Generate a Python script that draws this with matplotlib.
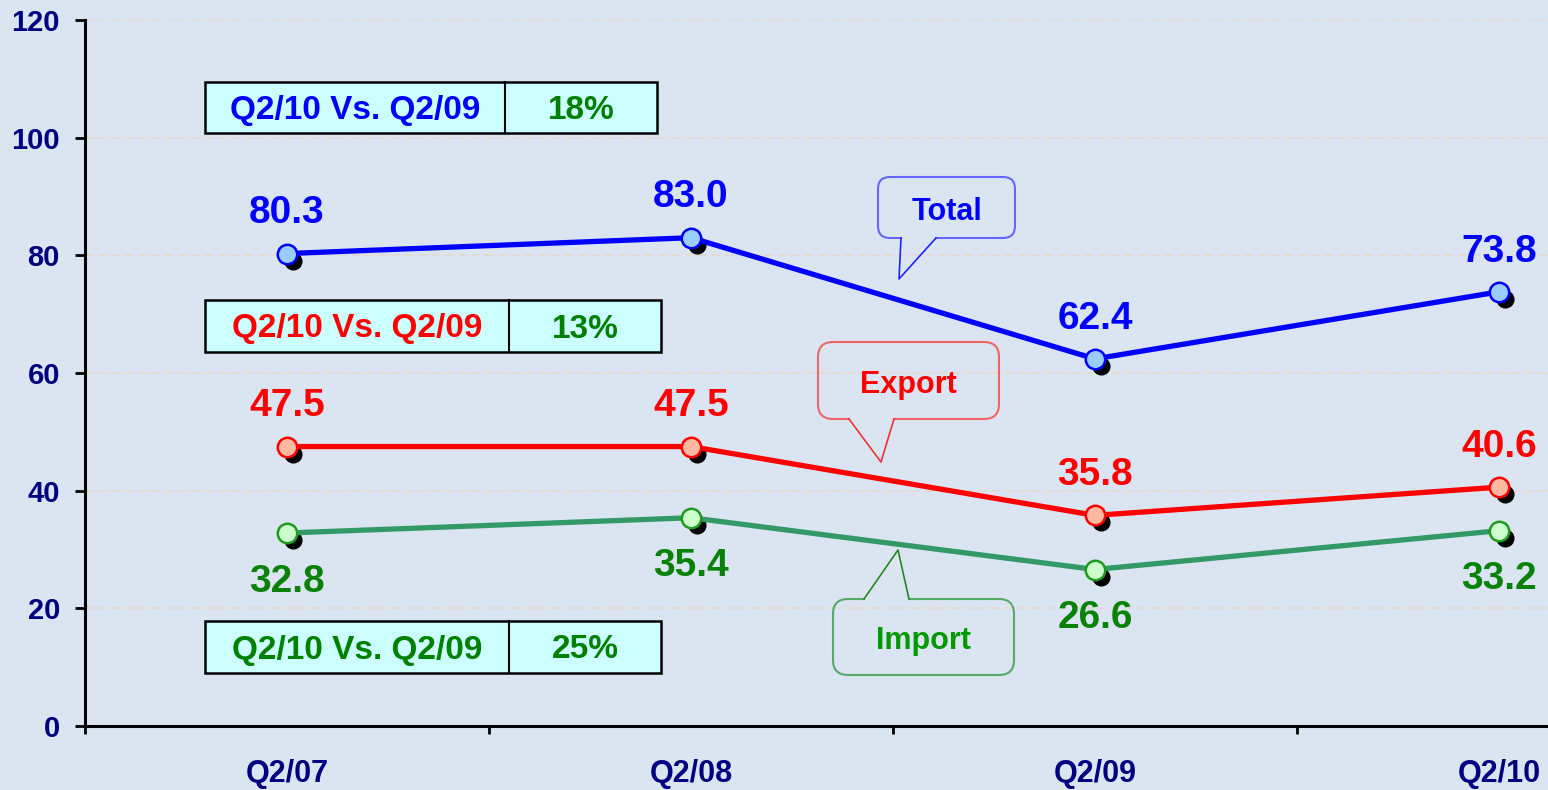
import matplotlib
matplotlib.use('Agg')
import matplotlib.pyplot as plt
from matplotlib.patches import Rectangle, FancyBboxPatch
from matplotlib.lines import Line2D
import matplotlib.transforms as mtransforms

categories = ['Q2/07', 'Q2/08', 'Q2/09', 'Q2/10']
total = [80.3, 83.0, 62.4, 73.8]
export = [47.5, 47.5, 35.8, 40.6]
imports = [32.8, 35.4, 26.6, 33.2]
yticks = [0, 20, 40, 60, 80, 100, 120]
series_names = ['Total', 'Export', 'Import']
box_label = 'Q2/10 Vs. Q2/09'
growth = ['18%', '13%', '25%']

W, H = 1548, 790
BG = '#DBE5F1'
plt.rcParams['font.family'] = ['Liberation Sans', 'DejaVu Sans']
plt.rcParams['font.weight'] = 'bold'

fig = plt.figure(figsize=(W / 100, H / 100), dpi=100, facecolor=BG)
left = 85 / W
bottom = (H - 726) / H
top = 20 / H
ax = fig.add_axes([left, bottom, 1 - left, 1 - bottom - top])
ax.set_facecolor(BG)
ax.set_xlim(-0.5, -0.5 + (W - 85) / 404)
ax.set_ylim(0, 120)

for s in ['top', 'right']:
    ax.spines[s].set_visible(False)
for s in ['left', 'bottom']:
    ax.spines[s].set_linewidth(2.2)
    ax.spines[s].set_color('black')

ax.set_yticks(yticks)
ax.tick_params(axis='y', direction='out', length=7, width=2, pad=11,
               labelsize=21, labelcolor='#000080')
ax.set_xticks([-0.5, 0.5, 1.5, 2.5])
ax.set_xticklabels([])
ax.set_xticks(range(len(categories)), minor=True)
ax.set_xticklabels(categories, minor=True)
ax.tick_params(axis='x', which='major', direction='out', length=6, width=2)
ax.tick_params(axis='x', which='minor', length=0, pad=24, labelsize=22,
               labelcolor='#000080')
for lab in ax.get_xticklabels(minor=True) + ax.get_yticklabels():
    lab.set_fontweight('bold')

ax.yaxis.grid(True, linestyle=(0, (5, 3)), color='#E3D9CF', linewidth=1.2)
ax.set_axisbelow(True)

x = list(range(len(categories)))
shadow = ax.transData + mtransforms.ScaledTranslation(6 / 100, -7 / 100, fig.dpi_scale_trans)

specs = [
    (total, '#0000FF', '#99CCFF', '#0000FF', '#0000FF', 29),
    (export, '#FF0000', '#FFB9A0', '#FF0000', '#FF0000', 29),
    (imports, '#339966', '#CCFFCC', '#1E9A1E', '#0A820A', -35),
]
for vals, lc, face, edge, tc, off in specs:
    ax.plot(x, vals, 'o', color='black', ms=12, transform=shadow, zorder=2, clip_on=False)
    ax.plot(x, vals, '-', color=lc, lw=3.8, zorder=3, clip_on=False)
    ax.plot(x, vals, 'o', mfc=face, mec=edge, mew=1.8, ms=14, zorder=4, clip_on=False)
    for i, v in enumerate(vals):
        ax.annotate(f'{v:.1f}', (i, v), xytext=(0, off), textcoords='offset points',
                    ha='center', va='center', fontsize=28, fontweight='bold', color=tc)

# pixel transform (origin top-left)
pix = mtransforms.Affine2D().scale(1 / 100, -1 / 100).translate(0, H / 100) + fig.dpi_scale_trans


def table_box(x0, x1, xd, y0, y1, ltext, lcolor, rtext):
    fig.add_artist(Rectangle((x0, y0), x1 - x0, y1 - y0, transform=pix, facecolor='#CCFFFF',
                             edgecolor='black', lw=1.8, zorder=5))
    fig.add_artist(Line2D([xd, xd], [y0, y1], transform=pix, color='black', lw=1.5, zorder=6))
    fig.text((x0 + xd) / 2, (y0 + y1) / 2 + 3, ltext, transform=pix, ha='center', va='center',
             fontsize=24, fontweight='bold', color=lcolor, zorder=7)
    fig.text((xd + x1) / 2, (y0 + y1) / 2 + 3, rtext, transform=pix, ha='center', va='center',
             fontsize=24, fontweight='bold', color='#008000', zorder=7)


table_box(205, 657, 505, 82, 133, box_label, '#0000FF', growth[0])
table_box(205, 661, 509, 300, 352, box_label, '#FF0000', growth[1])
table_box(205, 661, 509, 621, 673, box_label, '#008000', growth[2])


def callout(x0, y0, x1, y1, b1, b2, tip, base_y, ec, tail_c, text, tcolor, r=12):
    fig.add_artist(FancyBboxPatch((x0, y0), x1 - x0, y1 - y0,
                                  boxstyle=f'round,pad=0,rounding_size={r}', transform=pix,
                                  facecolor='none', edgecolor=ec, lw=1.5, zorder=5))
    fig.add_artist(Line2D([b1 + 1, b2 - 1], [base_y, base_y], transform=pix, color=BG,
                          lw=3, zorder=6, solid_capstyle='butt'))
    fig.add_artist(Line2D([b1, tip[0], b2], [base_y, tip[1], base_y], transform=pix,
                          color=tail_c, lw=1.2, zorder=7))
    fig.text((x0 + x1) / 2, (y0 + y1) / 2 + 4, text, transform=pix, ha='center', va='center',
             fontsize=22, fontweight='bold', color=tcolor, zorder=8)


callout(878, 177, 1015, 238, 901, 936, (899, 279), 238, '#6666FF', '#2222FF',
        series_names[0], '#0000FF', r=12)
callout(818, 342, 999, 419, 849, 894, (881, 462), 419, '#EE6666', '#EE3333',
        series_names[1], '#FF0000', r=15)
callout(833, 599, 1014, 675, 864, 909, (898, 550), 599, '#55AA66', '#228822',
        series_names[2], '#009900', r=15)

fig.savefig('out.png', dpi=100, facecolor=BG)
